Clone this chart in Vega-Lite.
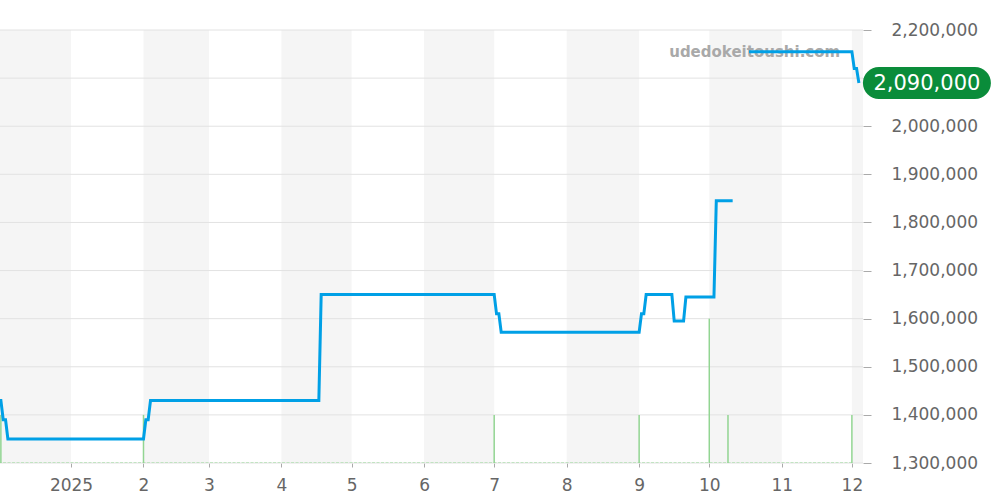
{
  "$schema": "https://vega.github.io/schema/vega-lite/v6.json",
  "width": 863,
  "height": 433,
  "autosize": "none",
  "padding": {"left": 0, "top": 30, "right": 137, "bottom": 37},
  "background": "white",
  "config": {"view": {"stroke": null}, "font": "DejaVu Sans"},
  "datasets": {
    "bands": [
      {"date": "2024-12-01", "date2": "2025-01-01"},
      {"date": "2025-02-01", "date2": "2025-03-01"},
      {"date": "2025-04-01", "date2": "2025-05-01"},
      {"date": "2025-06-01", "date2": "2025-07-01"},
      {"date": "2025-08-01", "date2": "2025-09-01"},
      {"date": "2025-10-01", "date2": "2025-11-01"},
      {"date": "2025-12-01", "date2": "2025-12-08"}
    ],
    "grid": [
      {"price": 1300000}, {"price": 1400000}, {"price": 1500000}, {"price": 1600000}, {"price": 1700000},
      {"price": 1800000}, {"price": 1900000}, {"price": 2000000}, {"price": 2100000}, {"price": 2200000}
    ],
    "base": [
      {"date": "2024-12-01", "date2": "2025-12-01", "price": 1300000}
    ],
    "volume": [
      {"date": "2024-12-02", "price": 1400000, "base": 1300000},
      {"date": "2025-02-01", "price": 1400000, "base": 1300000},
      {"date": "2025-07-01", "price": 1400000, "base": 1300000},
      {"date": "2025-09-01", "price": 1400000, "base": 1300000},
      {"date": "2025-10-01", "price": 1600000, "base": 1300000},
      {"date": "2025-10-09", "price": 1400000, "base": 1300000},
      {"date": "2025-12-01", "price": 1400000, "base": 1300000}
    ],
    "watermark": [
      {"date": "2025-10-20T10:00:00Z", "price": 2154000, "text": "udedokeitoushi.com"}
    ],
    "prices": [
      {"date": "2024-12-01", "price": 1430000, "seg": "a"},
      {"date": "2024-12-02", "price": 1430000, "seg": "a"},
      {"date": "2024-12-03", "price": 1390000, "seg": "a"},
      {"date": "2024-12-04", "price": 1390000, "seg": "a"},
      {"date": "2024-12-05", "price": 1350000, "seg": "a"},
      {"date": "2025-02-01", "price": 1350000, "seg": "a"},
      {"date": "2025-02-02", "price": 1390000, "seg": "a"},
      {"date": "2025-02-03", "price": 1390000, "seg": "a"},
      {"date": "2025-02-04", "price": 1430000, "seg": "a"},
      {"date": "2025-04-17", "price": 1430000, "seg": "a"},
      {"date": "2025-04-18", "price": 1650000, "seg": "a"},
      {"date": "2025-07-01", "price": 1650000, "seg": "a"},
      {"date": "2025-07-02", "price": 1610000, "seg": "a"},
      {"date": "2025-07-03", "price": 1610000, "seg": "a"},
      {"date": "2025-07-04", "price": 1572000, "seg": "a"},
      {"date": "2025-09-01", "price": 1572000, "seg": "a"},
      {"date": "2025-09-02", "price": 1610000, "seg": "a"},
      {"date": "2025-09-03", "price": 1610000, "seg": "a"},
      {"date": "2025-09-04", "price": 1650000, "seg": "a"},
      {"date": "2025-09-15", "price": 1650000, "seg": "a"},
      {"date": "2025-09-16", "price": 1595000, "seg": "a"},
      {"date": "2025-09-20", "price": 1595000, "seg": "a"},
      {"date": "2025-09-21", "price": 1645000, "seg": "a"},
      {"date": "2025-10-03", "price": 1645000, "seg": "a"},
      {"date": "2025-10-04", "price": 1845000, "seg": "a"},
      {"date": "2025-10-11", "price": 1845000, "seg": "a"},
      {"date": "2025-10-18", "price": 2155000, "seg": "b"},
      {"date": "2025-12-01", "price": 2155000, "seg": "b"},
      {"date": "2025-12-02", "price": 2120000, "seg": "b"},
      {"date": "2025-12-03", "price": 2120000, "seg": "b"},
      {"date": "2025-12-04", "price": 2090000, "seg": "b"}
    ],
    "last": [
      {"date": "2025-12-04", "price": 2090000, "label": "2,090,000"}
    ]
  },
  "layer": [
    {
      "data": {"name": "bands"},
      "mark": {"type": "rect", "fill": "#f5f5f5", "clip": true},
      "encoding": {
        "x": {
          "field": "date", "type": "temporal",
          "scale": {"type": "utc", "domain": [{"year": 2024, "month": 12, "date": 1, "hours": 15, "utc": true}, {"year": 2025, "month": 12, "date": 5, "hours": 18, "utc": true}]},
          "axis": {
            "title": null, "tickCount": "month", "grid": false, "domain": false,
            "tickSize": 4, "tickColor": "#aaa",
            "labelExpr": "utcmonth(datum.value) == 0 ? utcFormat(datum.value, '%Y') : '' + (utcmonth(datum.value) + 1)",
            "labelFontSize": 17, "labelColor": "#666", "labelPadding": 10, "labelFont": "DejaVu Sans"
          }
        },
        "x2": {"field": "date2"}
      }
    },
    {
      "data": {"name": "grid"},
      "mark": {"type": "rule", "stroke": "#e2e2e2", "strokeWidth": 1},
      "encoding": {
        "y": {
          "field": "price", "type": "quantitative",
          "scale": {"domain": [1300000, 2200000], "nice": false, "zero": false},
          "axis": {
            "orient": "right", "title": null,
            "values": [1300000, 1400000, 1500000, 1600000, 1700000, 1800000, 1900000, 2000000, 2100000, 2200000],
            "labelExpr": "format(datum.value, ',')", "grid": false, "domain": false,
            "tickSize": 8, "tickColor": "#aaa", "labelPadding": 20,
            "labelFontSize": 17, "labelColor": "#666", "labelAlign": "left", "labelBaseline": "middle", "labelFont": "DejaVu Sans"
          }
        }
      }
    },
    {
      "data": {"name": "base"},
      "mark": {"type": "rule", "stroke": "#b3e0b3", "strokeWidth": 1.5, "strokeDash": [3, 1.5], "clip": true},
      "encoding": {
        "x": {"field": "date", "type": "temporal", "axis": {"title": null}},
        "x2": {"field": "date2"},
        "y": {"field": "price", "type": "quantitative", "axis": {"title": null, "labelExpr": "format(datum.value, ',')"}}
      }
    },
    {
      "data": {"name": "volume"},
      "mark": {"type": "rule", "stroke": "#92d592", "strokeWidth": 1.5},
      "encoding": {
        "x": {"field": "date", "type": "temporal", "axis": {"title": null}},
        "y": {"field": "price", "type": "quantitative", "axis": {"title": null, "labelExpr": "format(datum.value, ',')"}},
        "y2": {"field": "base"}
      }
    },
    {
      "data": {"name": "watermark"},
      "mark": {"type": "text", "fontSize": 15, "fontWeight": "bold", "fill": "#a9a9a9", "align": "center", "baseline": "middle", "font": "DejaVu Sans"},
      "encoding": {
        "x": {"field": "date", "type": "temporal", "axis": {"title": null}},
        "y": {"field": "price", "type": "quantitative", "axis": {"title": null, "labelExpr": "format(datum.value, ',')"}},
        "text": {"field": "text"}
      }
    },
    {
      "data": {"name": "prices"},
      "mark": {"type": "line", "stroke": "#00a0e6", "strokeWidth": 3, "clip": true},
      "encoding": {
        "x": {"field": "date", "type": "temporal", "axis": {"title": null}},
        "y": {"field": "price", "type": "quantitative", "axis": {"title": null, "labelExpr": "format(datum.value, ',')"}},
        "detail": {"field": "seg"}
      }
    },
    {
      "data": {"name": "last"},
      "mark": {
        "type": "point", "filled": true, "fill": "#0a8c3a", "opacity": 1, "strokeWidth": 0, "size": 16384, "xOffset": 68,
        "shape": "M -0.75 -0.25 L 0.75 -0.25 A 0.25 0.25 0 0 1 0.75 0.25 L -0.75 0.25 A 0.25 0.25 0 0 1 -0.75 -0.25 Z"
      },
      "encoding": {
        "x": {"field": "date", "type": "temporal", "axis": {"title": null}},
        "y": {"field": "price", "type": "quantitative", "axis": {"title": null, "labelExpr": "format(datum.value, ',')"}}
      }
    },
    {
      "data": {"name": "last"},
      "mark": {"type": "text", "fill": "white", "fontSize": 21, "align": "center", "baseline": "middle", "dx": 68, "dy": 1, "font": "DejaVu Sans"},
      "encoding": {
        "x": {"field": "date", "type": "temporal", "axis": {"title": null}},
        "y": {"field": "price", "type": "quantitative", "axis": {"title": null, "labelExpr": "format(datum.value, ',')"}},
        "text": {"field": "label"}
      }
    }
  ]
}
